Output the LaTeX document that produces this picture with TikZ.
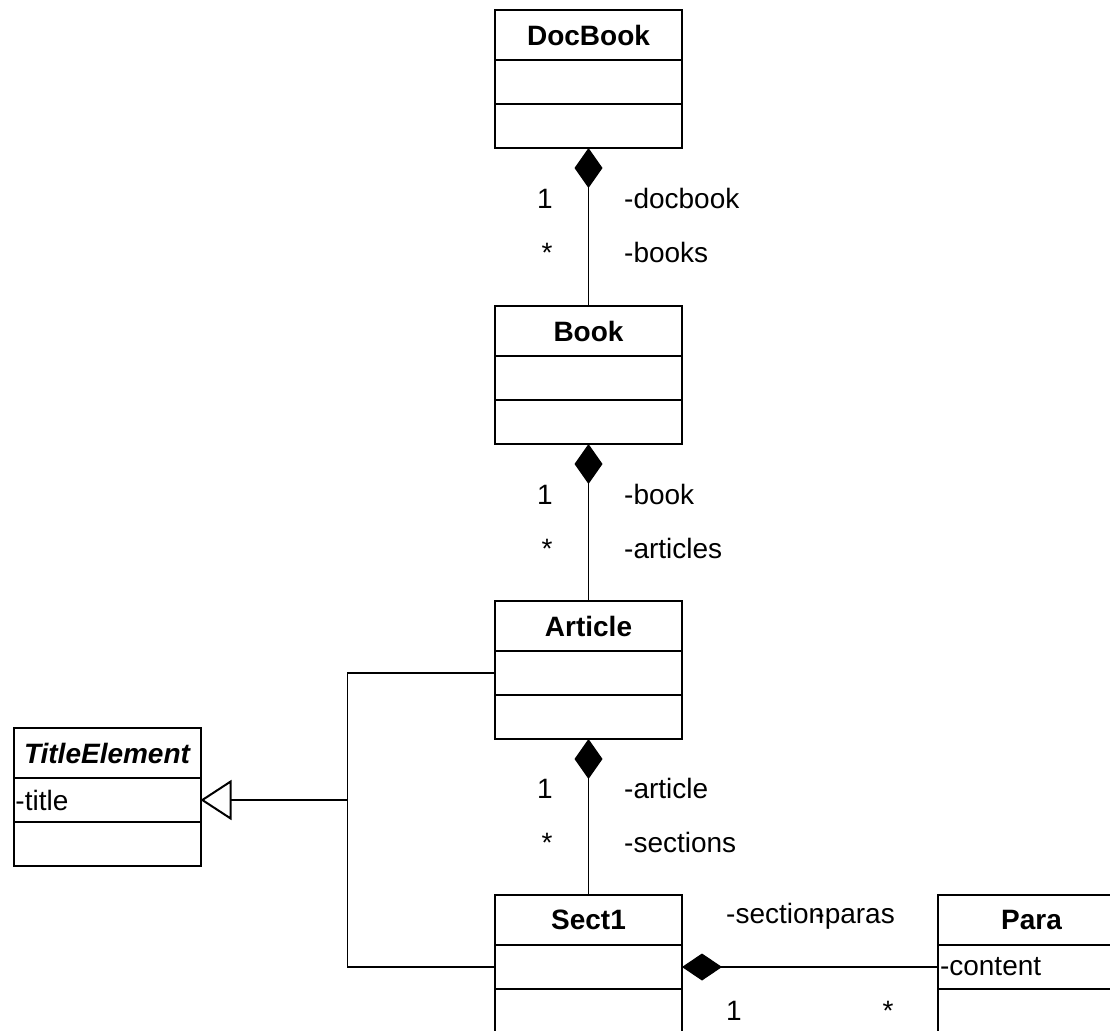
\documentclass[tikz,border=0pt]{standalone}
\usepackage{fontspec}
\setmainfont{Liberation Sans}
\usetikzlibrary{positioning,arrows.meta}

\newcommand{\umlfont}{\fontsize{28}{33}\selectfont}

\tikzset{
  classhead/.style={draw, line width=2pt, outer sep=0pt, inner sep=0pt,
    minimum width=187pt, minimum height=50pt, font=\umlfont\bfseries},
  classpart/.style={draw, line width=2pt, outer sep=0pt, inner xsep=2pt, inner ysep=0pt,
    minimum width=187pt, minimum height=44pt, text width=183pt, align=left, font=\umlfont},
  assoc/.style={line width=1.2pt},
  comp/.style={assoc, {Diamond[length=40pt,width=28pt]}-},
  generalize/.style={assoc, -{Triangle[open,length=31pt,width=40pt,line width=2pt]}},
  endlabel/.style={anchor=base, inner sep=0pt, font=\umlfont},
  rolelabel/.style={anchor=base west, inner sep=0pt, font=\umlfont}
}

\begin{document}
\begin{tikzpicture}[x=1pt,y=-1pt]

\useasboundingbox (0,0) rectangle (1110,1030);

% classes
\node[classhead] (docbook) at (588.5,35) {DocBook};
\node[classpart, below=0pt of docbook] (docbookA) {};
\node[classpart, below=0pt of docbookA] (docbookB) {};

\node[classhead] (book) at (588.5,331) {Book};
\node[classpart, below=0pt of book] (bookA) {};
\node[classpart, below=0pt of bookA] (bookB) {};

\node[classhead] (article) at (588.5,626) {Article};
\node[classpart, below=0pt of article] (articleA) {};
\node[classpart, below=0pt of articleA] (articleB) {};

\node[classhead] (sect) at (588.5,920) {Sect1};
\node[classpart, below=0pt of sect] (sectA) {};
\node[classpart, below=0pt of sectA] (sectB) {};

\node[classhead, font=\umlfont\bfseries\itshape] (title) at (107,753) {TitleElement};
\node[classpart, below=0pt of title] (titleA) {-title};
\node[classpart, below=0pt of titleA] (titleB) {};

\node[classhead] (para) at (1031.5,920) {Para};
\node[classpart, below=0pt of para] (paraA) {-content};
\node[classpart, below=0pt of paraA] (paraB) {};

% compositions
\draw[comp] (docbookB.south) -- (book.north);
\node[endlabel] (docbookOne) at (545,208) {1};
\node[endlabel] (docbookMany) at (547,262) {*};
\node[rolelabel] (docbookRole) at (624,208) {-docbook};
\node[rolelabel] (booksRole) at (624,262) {-books};

\draw[comp] (bookB.south) -- (article.north);
\node[endlabel] (bookOne) at (545,504) {1};
\node[endlabel] (bookMany) at (547,558) {*};
\node[rolelabel] (bookRole) at (624,504) {-book};
\node[rolelabel] (articlesRole) at (624,558) {-articles};

\draw[comp] (articleB.south) -- (sect.north);
\node[endlabel] (articleOne) at (545,798) {1};
\node[endlabel] (articleMany) at (547,852) {*};
\node[rolelabel] (articleRole) at (624,798) {-article};
\node[rolelabel] (sectionsRole) at (624,852) {-sections};

\draw[assoc, {Diamond[length=40pt,width=27pt]}-] (sectA.east) -- (paraA.west);
\node[rolelabel] (sectionRole) at (726,923) {-section};
\node[endlabel, anchor=base east] (parasRole) at (895,923) {-paras};
\node[endlabel] (sectOne) at (734,1020) {1};
\node[endlabel] (sectMany) at (888,1020) {*};

% generalization
\path (titleA.east) ++(147,0) coordinate (fork);
\draw[assoc] (articleA.west) -| (fork) |- (sectA.west);
\draw[generalize] (fork) -- (titleA.east);

\end{tikzpicture}
\end{document}
